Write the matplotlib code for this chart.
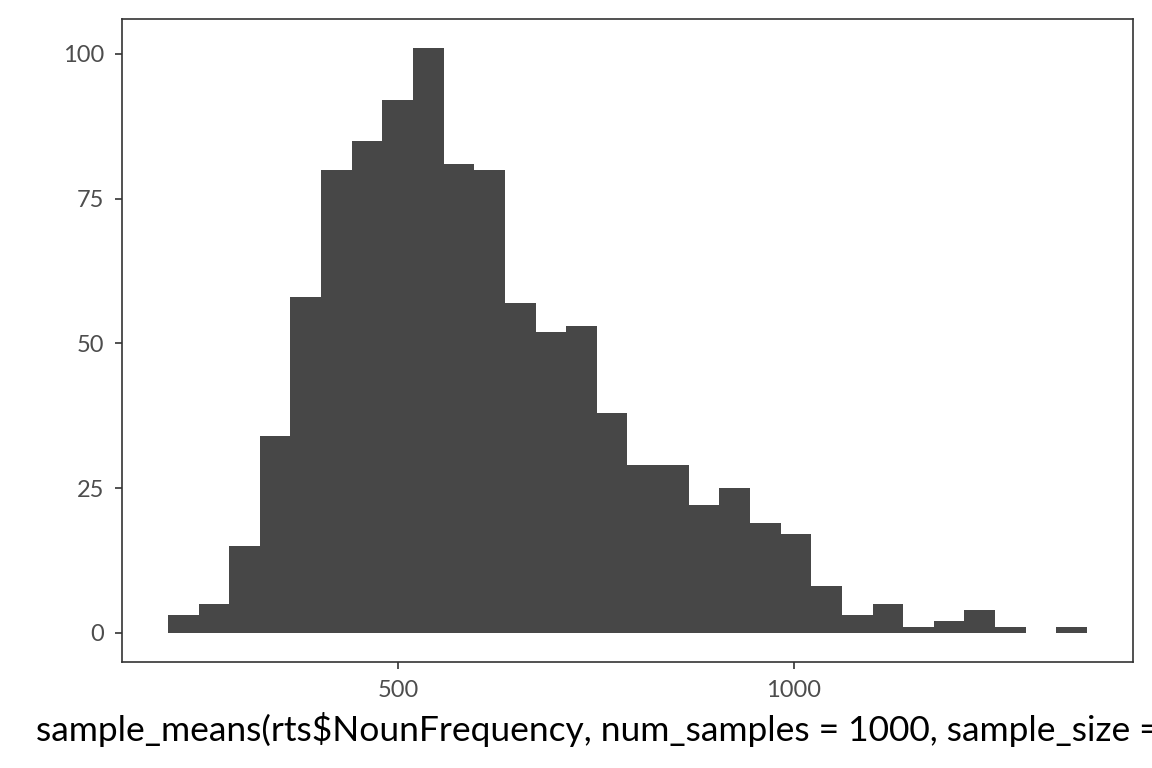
import numpy as np
import matplotlib
matplotlib.use('Agg')
import matplotlib.pyplot as plt

# histogram of sample means, 30 bins
bin_start = 209.6
bin_end = 1370.0
counts = [3, 5, 15, 34, 58, 80, 85, 92, 101, 81,
          80, 57, 52, 53, 38, 29, 29, 22, 25, 19,
          17, 8, 3, 5, 1, 2, 4, 1, 0, 1]
x_ticks = [500, 1000]
y_ticks = [0, 25, 50, 75, 100]
x_label = "sample_means(rts$NounFrequency, num_samples = 1000, sample_size = 50)"

plt.rcParams['font.family'] = ['Lato', 'DejaVu Sans']

edges = np.linspace(bin_start, bin_end, len(counts) + 1)
width = edges[1] - edges[0]

fig = plt.figure(figsize=(11.52, 7.68), dpi=100)
ax = fig.add_axes([0.1059, 0.138, 0.8776, 0.8373])
ax.bar(edges[:-1], counts, width=width, align='edge', color='#474747', linewidth=0)

span = bin_end - bin_start
ax.set_xlim(bin_start - 0.05 * span, bin_end + 0.05 * span)
ax.set_ylim(-0.05 * max(counts), max(counts) * 1.05)
ax.set_xticks(x_ticks)
ax.set_yticks(y_ticks)
ax.tick_params(length=5, width=1.2, color='#333333', labelcolor='#4d4d4d', labelsize=17)
ax.tick_params(axis='x', pad=8)
ax.tick_params(axis='y', pad=8)
for s in ax.spines.values():
    s.set_color('#333333')
    s.set_linewidth(1.2)
# label is wider than the figure, like in the original it runs off the right edge
ax.set_xlabel(x_label, fontsize=25.5, color='black', labelpad=8)

fig.savefig('out.png', dpi=100)
